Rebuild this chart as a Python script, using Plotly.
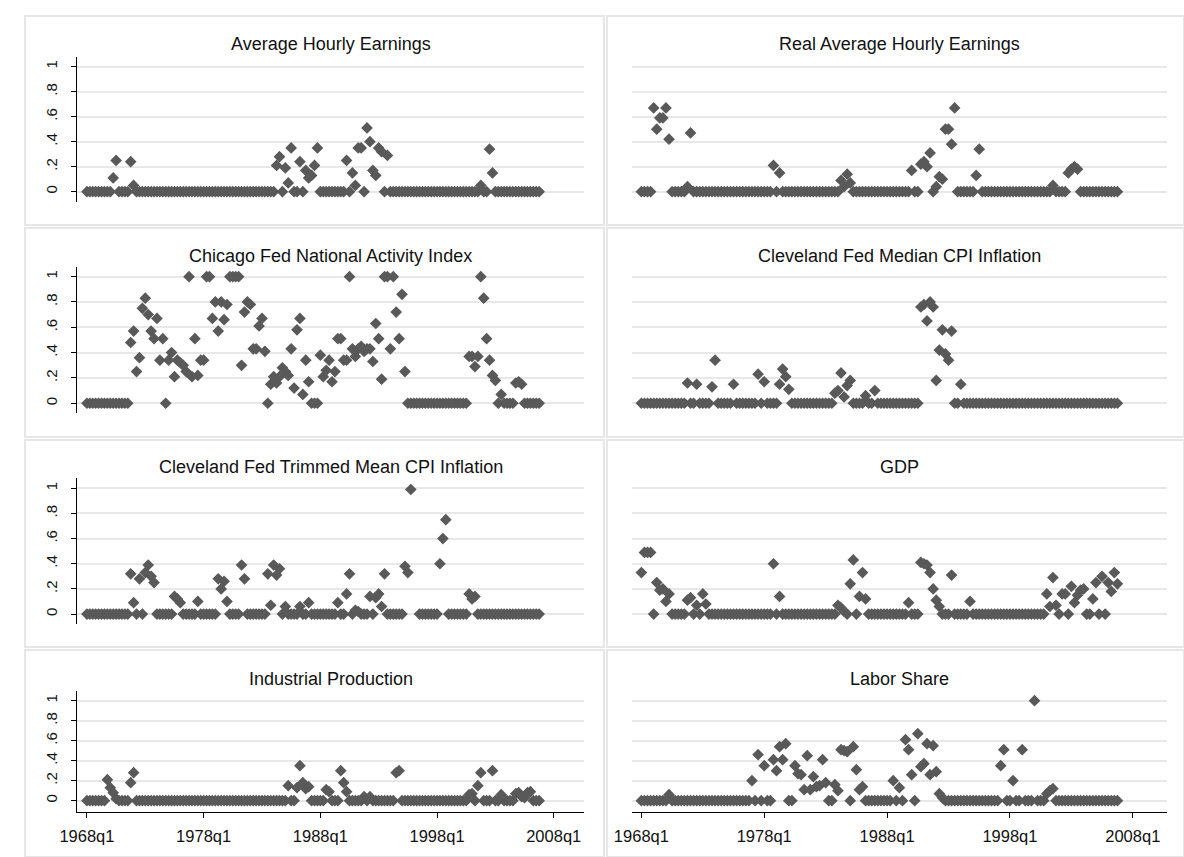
import plotly.graph_objects as go

# ---------------- data (quarterly, 1968q1 .. 2006q4) ----------------
start_year = 1968
n_quarters = 156
dates = [start_year + i / 4 for i in range(n_quarters)]

tick_years = [1968, 1978, 1988, 1998, 2008]
tick_labels = ["1968q1", "1978q1", "1988q1", "1998q1", "2008q1"]
y_ticks = [0, 0.2, 0.4, 0.6, 0.8, 1]
y_tick_labels = ["0", ".2", ".4", ".6", ".8", "1"]

titles = [
    "Average Hourly Earnings", "Real Average Hourly Earnings",
    "Chicago Fed National Activity Index", "Cleveland Fed Median CPI Inflation",
    "Cleveland Fed Trimmed Mean CPI Inflation", "GDP",
    "Industrial Production", "Labor Share",
]

ahe = [
    0, 0, 0, 0, 0, 0, 0, 0, 0, .11, .25, 0, 0, 0, 0, .24, .05, 0, 0, 0,
    0, 0, 0, 0, 0, 0, 0, 0, 0, 0, 0, 0, 0, 0, 0, 0, 0, 0, 0, 0,
    0, 0, 0, 0, 0, 0, 0, 0, 0, 0, 0, 0, 0, 0, 0, 0, 0, 0, 0, 0,
    0, 0, 0, 0, 0, .21, .28, 0, .19, .07, .35, 0, 0, .24, 0, .17, .11, .13, .21, .35,
    0, 0, 0, 0, 0, 0, 0, 0, 0, .25, 0, .15, .05, .35, .35, 0, .51, .40, .17, .13,
    .35, .32, 0, .29, 0, 0, 0, 0, 0, 0, 0, 0, 0, 0, 0, 0, 0, 0, 0, 0,
    0, 0, 0, 0, 0, 0, 0, 0, 0, 0, 0, 0, 0, 0, 0, .05, 0, 0, .34, .15,
    0, 0, 0, 0, 0, 0, 0, 0, 0, 0, 0, 0, 0, 0, 0, 0,
]

real_ahe = [
    0, 0, 0, 0, .67, .50, .59, .59, .67, .42, 0, 0, 0, 0, 0, .04, .47, 0, 0, 0,
    0, 0, 0, 0, 0, 0, 0, 0, 0, 0, 0, 0, 0, 0, 0, 0, 0, 0, 0, 0,
    0, 0, 0, .21, 0, .15, 0, 0, 0, 0, 0, 0, 0, 0, 0, 0, 0, 0, 0, 0,
    0, 0, 0, 0, 0, .09, .04, .14, .07, 0, 0, 0, 0, 0, 0, 0, 0, 0, 0, 0,
    0, 0, 0, 0, 0, 0, 0, 0, .17, 0, 0, .22, .24, .20, .31, 0, .04, .12, .10, .50,
    .50, .38, .67, 0, 0, 0, 0, 0, 0, .13, .34, 0, 0, 0, 0, 0, 0, 0, 0, 0,
    0, 0, 0, 0, 0, 0, 0, 0, 0, 0, 0, 0, 0, 0, .05, 0, 0, 0, 0, .15,
    .18, .20, .18, 0, 0, 0, 0, 0, 0, 0, 0, 0, 0, 0, 0, 0,
]

cfnai = [
    0, 0, 0, 0, 0, 0, 0, 0, 0, 0, 0, 0, 0, 0, 0, .48, .57, .25, .36, .75,
    .83, .70, .57, .51, .67, .34, .51, 0, .34, .40, .21, .34, .32, .30, .25, 1, .21, .51, .22, .34,
    .34, 1, 1, .67, .80, .57, .80, .66, .78, 1, 1, 1, 1, .30, .72, .80, .78, .43, .43, .61,
    .67, .41, 0, .15, .21, .16, .21, .28, .25, .22, .43, .12, .58, .67, .07, .34, .17, 0, 0, 0,
    .38, .21, .26, .34, .17, .25, .51, .51, .34, .34, 1, .43, .37, .43, .45, .41, .43, .43, .33, .63,
    .51, .19, 1, 1, .43, 1, .72, .51, .86, .25, 0, 0, 0, 0, 0, 0, 0, 0, 0, 0,
    0, 0, 0, 0, 0, 0, 0, 0, 0, 0, 0, .37, .37, .29, .37, 1, .83, .51, .34, .22,
    .18, 0, .07, 0, 0, 0, 0, .16, .17, .15, 0, 0, 0, 0, 0, 0,
]

median_cpi = [
    0, 0, 0, 0, 0, 0, 0, 0, 0, 0, 0, 0, 0, 0, 0, .16, 0, 0, .15, 0,
    0, 0, 0, .13, .34, 0, 0, 0, 0, 0, .15, 0, 0, 0, 0, 0, 0, 0, .23, 0,
    .17, 0, 0, 0, 0, .15, .27, .21, .11, 0, 0, 0, 0, 0, 0, 0, 0, 0, 0, 0,
    0, 0, 0, .08, .10, .24, .05, .14, .18, 0, 0, 0, 0, .06, 0, 0, .10, 0, 0, 0,
    0, 0, 0, 0, 0, 0, 0, 0, 0, 0, 0, .76, .78, .65, .80, .76, .18, .42, .58, .39,
    .34, .57, 0, 0, .15, 0, 0, 0, 0, 0, 0, 0, 0, 0, 0, 0, 0, 0, 0, 0,
    0, 0, 0, 0, 0, 0, 0, 0, 0, 0, 0, 0, 0, 0, 0, 0, 0, 0, 0, 0,
    0, 0, 0, 0, 0, 0, 0, 0, 0, 0, 0, 0, 0, 0, 0, 0,
]

trimmed_cpi = [
    0, 0, 0, 0, 0, 0, 0, 0, 0, 0, 0, 0, 0, 0, 0, .32, .09, 0, .28, 0,
    .33, .39, .30, .25, 0, 0, 0, 0, 0, 0, .14, .12, .09, 0, 0, 0, 0, 0, .10, 0,
    0, 0, 0, 0, 0, .28, .20, .26, .10, 0, 0, 0, 0, .39, .28, 0, 0, 0, 0, 0,
    0, 0, .32, .07, .39, .31, .36, 0, .06, 0, 0, 0, 0, .06, 0, 0, .09, 0, 0, 0,
    0, 0, 0, 0, 0, 0, .09, 0, 0, .16, .32, 0, .03, .02, 0, 0, 0, .14, 0, .13,
    .16, .06, .32, 0, 0, 0, 0, 0, 0, .38, .33, .99, None, None, 0, 0, 0, 0, 0, 0,
    0, .40, .60, .75, 0, 0, 0, 0, 0, 0, 0, .16, .12, .14, 0, 0, 0, 0, 0, 0,
    0, 0, 0, 0, 0, 0, 0, 0, 0, 0, 0, 0, 0, 0, 0, 0,
]

gdp = [
    .33, .49, .49, .49, 0, .25, .19, .20, .10, .16, 0, 0, 0, 0, 0, .11, .13, 0, .07, 0,
    .16, .08, 0, 0, 0, 0, 0, 0, 0, 0, 0, 0, 0, 0, 0, 0, 0, 0, 0, 0,
    0, 0, 0, .40, 0, .14, 0, 0, 0, 0, 0, 0, 0, 0, 0, 0, 0, 0, 0, 0,
    0, 0, 0, 0, .07, .05, .02, 0, .24, .43, 0, .14, .33, .12, 0, 0, 0, 0, 0, 0,
    0, 0, 0, 0, 0, 0, 0, .09, 0, 0, 0, .41, .40, .39, .33, .20, .11, .06, 0, 0,
    0, .31, 0, 0, 0, 0, 0, .10, 0, 0, 0, 0, 0, 0, 0, 0, 0, 0, 0, 0,
    0, 0, 0, 0, 0, 0, 0, 0, 0, 0, 0, 0, .16, .06, .29, .07, 0, .16, .16, 0,
    .22, .09, .15, .19, .20, 0, 0, .12, .25, 0, .30, 0, .25, .18, .33, .24,
]

ind_prod = [
    0, 0, 0, 0, 0, 0, 0, .21, .13, .08, .02, 0, 0, 0, 0, .18, .28, 0, 0, 0,
    0, 0, 0, 0, 0, 0, 0, 0, 0, 0, 0, 0, 0, 0, 0, 0, 0, 0, 0, 0,
    0, 0, 0, 0, 0, 0, 0, 0, 0, 0, 0, 0, 0, 0, 0, 0, 0, 0, 0, 0,
    0, 0, 0, 0, 0, 0, 0, 0, 0, .15, 0, 0, .13, .35, .18, .12, .14, 0, 0, 0,
    0, 0, .11, .09, 0, 0, 0, .30, .18, .09, 0, 0, 0, 0, 0, .04, 0, .04, 0, 0,
    0, 0, 0, 0, 0, 0, .28, .30, 0, 0, 0, 0, 0, 0, 0, 0, 0, 0, 0, 0,
    0, 0, 0, 0, 0, 0, 0, 0, 0, 0, 0, .06, .07, 0, .15, .28, 0, 0, 0, .30,
    0, 0, .06, 0, 0, 0, 0, .07, .08, .04, .03, .08, .09, 0, 0, 0,
]

labor_share = [
    0, 0, 0, 0, 0, 0, 0, 0, 0, .06, 0, 0, 0, 0, 0, 0, 0, 0, 0, 0,
    0, 0, 0, 0, 0, 0, 0, 0, 0, 0, 0, 0, 0, 0, 0, 0, .20, 0, .46, 0,
    .35, 0, 0, .41, .30, .54, .41, .57, 0, 0, .35, .27, .26, .11, .45, .11, .24, .14, .15, .41,
    .18, 0, 0, .16, .10, .51, .50, .49, 0, .54, .31, .11, .14, 0, 0, 0, 0, 0, 0, 0,
    0, 0, .20, 0, .13, 0, .61, .51, .26, 0, .67, .34, .37, .57, .26, .55, .29, .07, .03, 0,
    0, 0, 0, 0, 0, 0, 0, 0, 0, 0, 0, 0, 0, 0, 0, 0, 0, .35, .51, 0,
    0, .20, 0, 0, .51, 0, 0, 0, 1.0, 0, 0, 0, .07, .10, .12, 0, 0, 0, 0, 0,
    0, 0, 0, 0, 0, 0, 0, 0, 0, 0, 0, 0, 0, 0, 0, 0,
]

series = [ahe, real_ahe, cfnai, median_cpi, trimmed_cpi, gdp, ind_prod, labor_share]

# ---------------- layout geometry (pixels) ----------------
W, H = 1184, 857
MARKER = "#595959"
GRID = "#e8e8e8"
TEXT = "#111111"

cols = [  # left px, right px, x range
    (60, 575, [1967.156, 2010.616]),
    (623, 1167, [1967.198, 2010.806]),
]
rows = [  # top px, bottom px, y range, title y px
    (56.7, 201.7, [-0.08, 1.08], 44),
    (266.5, 413.4, [-0.08, 1.08], 256),
    (478.2, 624.1, [-0.08, 1.08], 467),
    (690.7, 811.7, [-0.11, 1.10], 679),
]

fig = go.Figure()
layout = dict(
    width=W, height=H, margin=dict(l=0, r=0, t=0, b=0),
    paper_bgcolor="white", plot_bgcolor="white", showlegend=False,
    font=dict(family="Arial, Liberation Sans, sans-serif", color=TEXT),
)
annotations = []
shapes = []

# panel frames
panel_x = [(7, 595), (598, 1184)]
panel_y = [(16, 225), (228, 437), (440, 647), (650, 857)]
for (py0, py1) in panel_y:
    for (px0, px1) in panel_x:
        shapes.append(dict(type="rect", xref="paper", yref="paper",
                           x0=px0 / W, x1=px1 / W, y0=1 - py1 / H, y1=1 - py0 / H,
                           line=dict(color="#e6e6e6", width=2), fillcolor="rgba(0,0,0,0)",
                           layer="below"))

for k, vals in enumerate(series):
    r, c = divmod(k, 2)
    top, bot, yr, ty = rows[r]
    left, right, xr = cols[c]
    idx = k + 1
    xa = "x" if idx == 1 else f"x{idx}"
    ya = "y" if idx == 1 else f"y{idx}"
    fig.add_trace(go.Scatter(
        x=dates, y=vals, mode="markers", xaxis=xa, yaxis=ya,
        marker=dict(symbol="diamond", size=9, color=MARKER, line=dict(width=0)),
        cliponaxis=False, hoverinfo="x+y",
    ))
    bottom_row = (r == 3)
    layout["xaxis" if idx == 1 else f"xaxis{idx}"] = dict(
        domain=[left / W, right / W], range=xr, anchor=ya,
        showgrid=False, zeroline=False,
        showline=bottom_row, linecolor="black", linewidth=1.3,
        ticks="outside" if bottom_row else "", ticklen=5, tickwidth=1.3, tickcolor="black",
        tickvals=tick_years, ticktext=tick_labels, showticklabels=bottom_row,
        tickfont=dict(size=16.5, color=TEXT), ticklabelstandoff=4,
    )
    left_col = (c == 0)
    layout["yaxis" if idx == 1 else f"yaxis{idx}"] = dict(
        domain=[1 - bot / H, 1 - top / H], range=yr, anchor=xa,
        showgrid=True, gridcolor=GRID, gridwidth=1.5, zeroline=False,
        showline=left_col, linecolor="black", linewidth=1.3,
        ticks="outside" if left_col else "", ticklen=5, tickwidth=1.3, tickcolor="black",
        tickvals=y_ticks, ticktext=y_tick_labels, showticklabels=left_col,
        tickangle=-90, tickfont=dict(size=15, color=TEXT), ticklabelstandoff=8,
    )
    annotations.append(dict(
        text=titles[k], xref="paper", yref="paper",
        x=(left + right) / 2 / W, y=1 - ty / H, xanchor="center", yanchor="middle",
        showarrow=False, font=dict(size=18, color=TEXT),
    ))

layout["annotations"] = annotations
layout["shapes"] = shapes
fig.update_layout(**layout)
fig.write_html("out.html", config={"displayModeBar": False},
               post_script="document.body.style.margin='0px';")
